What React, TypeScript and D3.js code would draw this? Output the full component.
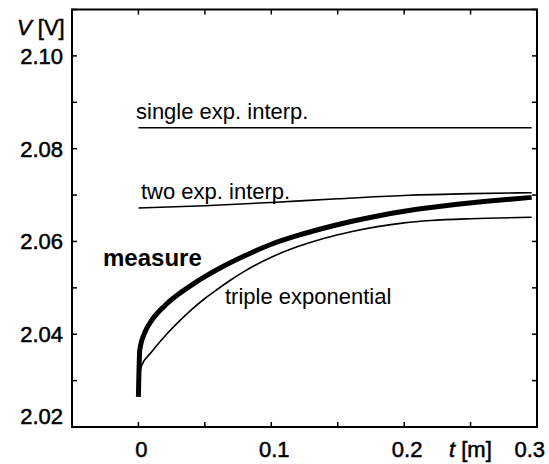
import React, { useEffect, useRef } from 'react'
import * as d3 from 'd3'

// values
const measureT = [0, 0.001, 0.005, 0.01, 0.02, 0.03, 0.04, 0.05, 0.065, 0.08, 0.1, 0.12, 0.14, 0.16, 0.18, 0.2, 0.22, 0.24, 0.26, 0.28, 0.296]
const measureV = [2.0265, 2.0366, 2.0405, 2.043, 2.0462, 2.0486, 2.0506, 2.0524, 2.0548, 2.0569, 2.0594, 2.0613, 2.0629, 2.0643, 2.0655, 2.0665, 2.0673, 2.068, 2.0686, 2.0691, 2.0695]

const tripleT = [0, 0.002, 0.01, 0.02, 0.03, 0.04, 0.05, 0.06, 0.07, 0.08, 0.09, 0.1, 0.12, 0.14, 0.16, 0.18, 0.2, 0.22, 0.25, 0.296]
const tripleV = [2.0275, 2.033, 2.0362, 2.0396, 2.0426, 2.0453, 2.0477, 2.0498, 2.0518, 2.0536, 2.0552, 2.0566, 2.0589, 2.0607, 2.0621, 2.0632, 2.064, 2.0645, 2.0649, 2.0652]

const twoExpT = [0, 0.05, 0.1, 0.15, 0.2, 0.25, 0.296]
const twoExpV = [2.0672, 2.0677, 2.0684, 2.0692, 2.0699, 2.0703, 2.0705]

const singleT = [0, 0.296]
const singleV = [2.0845, 2.0845]

const yTickLabels = ['2.02', '2.04', '2.06', '2.08', '2.10']
const xTickLabels = ['0', '0.1', '0.2', '0.3']

export default function App() {
  const ref = useRef(null)

  useEffect(() => {
    const width = 549, height = 464
    const margin = { top: 9.5, right: 12, bottom: 37, left: 72 }

    const x = d3.scaleLinear().domain([-0.05, 0.3]).range([margin.left, width - margin.right])
    const y = d3.scaleLinear().domain([2.02, 2.11]).range([height - margin.bottom, margin.top])

    const svg = d3.select(ref.current)
    svg.selectAll('*').remove()

    const font = "'Liberation Sans', Arial, sans-serif"
    const x0 = x.range()[0], x1 = x.range()[1]
    const y0 = y.range()[0], y1 = y.range()[1]

    // frame
    svg.append('rect')
      .attr('x', x0).attr('y', y1)
      .attr('width', x1 - x0).attr('height', y0 - y1)
      .attr('fill', 'none').attr('stroke', '#000').attr('stroke-width', 2)

    // ticks, all pointing inwards
    const yMinor = d3.range(2.02, 2.1101, 0.01)
    const xMinor = d3.range(-0.05, 0.3001, 0.05)
    const tk = 5
    const g = svg.append('g').attr('stroke', '#000').attr('stroke-width', 1.5)
    yMinor.forEach(v => {
      g.append('line').attr('x1', x0).attr('x2', x0 + tk).attr('y1', y(v)).attr('y2', y(v))
      g.append('line').attr('x1', x1).attr('x2', x1 - tk).attr('y1', y(v)).attr('y2', y(v))
    })
    xMinor.forEach(t => {
      g.append('line').attr('x1', x(t)).attr('x2', x(t)).attr('y1', y0).attr('y2', y0 - tk)
      g.append('line').attr('x1', x(t)).attr('x2', x(t)).attr('y1', y1).attr('y2', y1 + tk)
    })

    // tick labels
    svg.append('g').selectAll('text')
      .data(yTickLabels)
      .join('text')
      .attr('x', x0 - 9)
      .attr('y', d => y(+d) + (d === '2.02' ? -3 : 8))
      .attr('text-anchor', 'end')
      .attr('font-family', font).attr('font-size', 22)
      .attr('stroke', '#000').attr('stroke-width', 0.5)
      .text(d => d)

    svg.append('g').selectAll('text')
      .data(xTickLabels)
      .join('text')
      .attr('x', d => d === '0.3' ? width - 4 : x(+d) + 3)
      .attr('y', y0 + 30)
      .attr('text-anchor', d => d === '0.3' ? 'end' : 'middle')
      .attr('font-family', font).attr('font-size', 22)
      .attr('stroke', '#000').attr('stroke-width', 0.5)
      .text(d => d)

    // axis titles
    const vt = svg.append('text').attr('x', 17).attr('y', 35)
      .attr('font-family', font).attr('font-size', 22)
      .attr('stroke', '#000').attr('stroke-width', 0.5)
    vt.append('tspan').attr('font-style', 'italic').text('V')
    vt.append('tspan').text(' [V]')

    const tt = svg.append('text').attr('x', 449).attr('y', y0 + 30)
      .attr('font-family', font).attr('font-size', 22)
      .attr('stroke', '#000').attr('stroke-width', 0.5)
    tt.append('tspan').attr('font-style', 'italic').text('t')
    tt.append('tspan').text(' [m]')

    // curves
    const line = d3.line<number>()
      .x(d => x(d[0]))
      .y(d => y(d[1]))
      .curve(d3.curveMonotoneX)

    const series = [
      { t: singleT, v: singleV, w: 1.6 },
      { t: twoExpT, v: twoExpV, w: 1.6 },
      { t: tripleT, v: tripleV, w: 1.6 },
      { t: measureT, v: measureV, w: 5 },
    ]
    series.forEach(s => {
      svg.append('path')
        .datum(s.t.map((t, i) => [t, s.v[i]]))
        .attr('d', line)
        .attr('fill', 'none')
        .attr('stroke', '#000')
        .attr('stroke-width', s.w)
    })

    // in-plot labels
    const labels = [
      { text: 'single exp. interp.', x: 136, y: 119, size: 22, bold: false },
      { text: 'two exp. interp.', x: 141, y: 199, size: 22, bold: false },
      { text: 'measure', x: 103, y: 266, size: 24, bold: true },
      { text: 'triple exponential', x: 225, y: 304, size: 22, bold: false },
    ]
    svg.append('g').selectAll('text')
      .data(labels)
      .join('text')
      .attr('x', d => d.x).attr('y', d => d.y)
      .attr('font-family', font)
      .attr('font-size', d => d.size)
      .attr('font-weight', d => d.bold ? 'bold' : 'normal')
      .attr('fill', '#000')
      .text(d => d.text)
  }, [])

  return (
    <svg ref={ref} width={549} height={464}
      style={{ position: 'absolute', left: 0, top: 0, background: '#fff' }}></svg>
  )
}
